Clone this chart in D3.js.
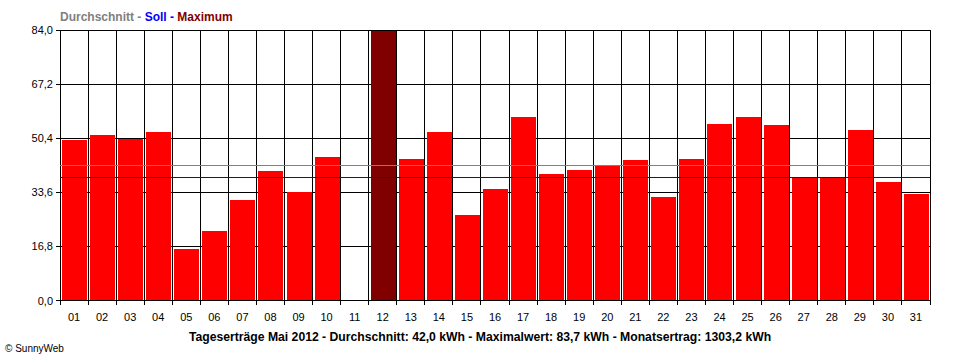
<!DOCTYPE html>
<html><head><meta charset="utf-8">
<script src="https://cdn.jsdelivr.net/npm/d3@7"></script>
<style>body{margin:0;background:#fff}svg{display:block}</style></head>
<body>
<svg id="c" width="960" height="360"></svg>
<script>
const days = ["01","02","03","04","05","06","07","08","09","10","11","12","13","14","15","16","17","18","19","20","21","22","23","24","25","26","27","28","29","30","31"];
const values = [49.9,51.5,50.2,52.4,16.1,21.7,31.3,40.3,33.8,44.6,0,83.7,44.0,52.4,26.7,34.7,57.0,39.4,40.6,41.8,43.7,32.2,44.0,54.9,57.0,54.6,38.3,38.3,53.0,36.9,33.2];
const yTicks = [0,16.8,33.6,50.4,67.2,84.0];
const average = 42.0;
const target = 38.3;
const legendTexts = ["Durchschnitt - ","Soll - ","Maximum"];
const legendColors = ["#808080","#0000ff","#800000"];
const caption = "Tageserträge Mai 2012 - Durchschnitt: 42,0 kWh - Maximalwert: 83,7 kWh - Monatsertrag: 1303,2 kWh";
const credit = "© SunnyWeb";

const svg = d3.select("#c");
const L = 60, R = 930, T = 30, B = 300.5;
const x = d3.scaleBand().domain(days).range([L, R]).padding(0);
const y = d3.scaleLinear().domain([0, 84]).range([B, T]);
const fmt = v => d3.format(".1f")(v).replace(".", ",");
const px = v => Math.round(v) + 0.5;
const maxV = d3.max(values);
const font = "'Liberation Sans', Arial, sans-serif";

// horizontal gridlines + left ticks
svg.append("g").selectAll("line").data(yTicks).join("line")
  .attr("x1", L - 4).attr("x2", R + 0.5)
  .attr("y1", d => px(Math.floor(y(d)))).attr("y2", d => px(Math.floor(y(d))))
  .attr("stroke", "#000").attr("stroke-width", 1).attr("shape-rendering", "crispEdges");

// vertical gridlines + bottom ticks
const bounds = days.map(d => x(d)).concat([R]);
svg.append("g").selectAll("line").data(bounds).join("line")
  .attr("x1", d => px(Math.floor(d))).attr("x2", d => px(Math.floor(d)))
  .attr("y1", T).attr("y2", B + 4)
  .attr("stroke", "#000").attr("stroke-width", 1).attr("shape-rendering", "crispEdges");

// bars
svg.append("g").selectAll("rect").data(values.map((v, i) => ({day: days[i], v})).filter(d => d.v > 0)).join("rect")
  .attr("x", d => Math.round(x(d.day)) + 2)
  .attr("width", x.bandwidth() - 3)
  .attr("y", d => Math.round(y(d.v)))
  .attr("height", d => Math.floor(y(0)) - Math.round(y(d.v)))
  .attr("fill", d => d.v === maxV ? "#800000" : "#ff0000")
  .attr("shape-rendering", "crispEdges");

// average & target lines
[[average, "#808080"], [target, "#0000ff"]].forEach(([v, c]) => {
  svg.append("line").attr("x1", L).attr("x2", R)
    .attr("y1", px(y(v))).attr("y2", px(y(v)))
    .attr("stroke", c).attr("stroke-width", 1).attr("shape-rendering", "crispEdges");
});

// y labels
svg.append("g").selectAll("text").data(yTicks).join("text")
  .attr("x", 53).attr("y", d => y(d) + 4)
  .attr("text-anchor", "end").attr("font-family", font).attr("font-size", 11)
  .attr("fill", "#000").text(fmt);

// x labels
svg.append("g").selectAll("text").data(days).join("text")
  .attr("x", d => x(d) + x.bandwidth() / 2).attr("y", 321)
  .attr("text-anchor", "middle").attr("font-family", font).attr("font-size", 11)
  .attr("fill", "#000").text(d => d);

// legend title
const lg = svg.append("text").attr("x", 60).attr("y", 21)
  .attr("font-family", font).attr("font-size", 12).attr("font-weight", "bold");
legendTexts.forEach((t, i) => lg.append("tspan").attr("fill", legendColors[i]).style("white-space", "pre").text(t));

// caption
svg.append("text").attr("x", 480).attr("y", 341).attr("text-anchor", "middle")
  .attr("font-family", font).attr("font-size", 12.2).attr("font-weight", "bold")
  .attr("fill", "#000").text(caption);

// credit
svg.append("text").attr("x", 5).attr("y", 352)
  .attr("font-family", font).attr("font-size", 10).attr("fill", "#000").text(credit);
</script>
</body></html>
